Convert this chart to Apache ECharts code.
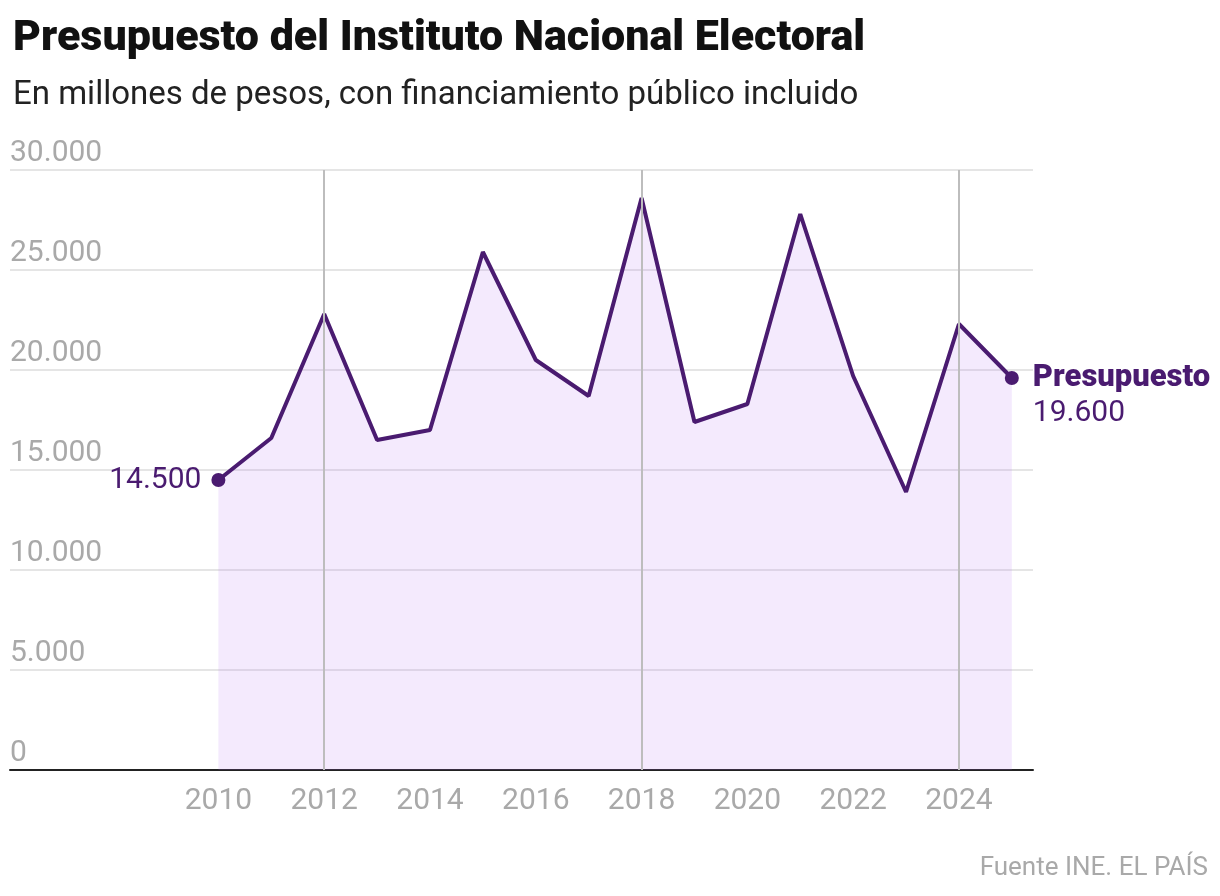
<!DOCTYPE html>
<html style="height: 100%">
<head>
<meta charset="utf-8">
<script src="https://cdn.jsdelivr.net/npm/echarts@6/dist/echarts.min.js"></script>
</head>
<body style="height: 100%; margin: 0; background: #fff">
<div id="container" style="width: 1220px; height: 896px"></div>
<script type="text/javascript">
// datos
var years = [2010, 2011, 2012, 2013, 2014, 2015, 2016, 2017, 2018, 2019, 2020, 2021, 2022, 2023, 2024, 2025];
var presupuesto = [14500, 16600, 22800, 16500, 17000, 25900, 20500, 18700, 28600, 17400, 18300, 27800, 19700, 13900, 22300, 19600];
var xTicks = [2010, 2012, 2014, 2016, 2018, 2020, 2022, 2024];
var yTicks = [0, 5000, 10000, 15000, 20000, 25000, 30000];
var vLines = [2012, 2018, 2024];

var purple = '#4a1b70';
var gray = '#a9a9a9';
var font = 'Roboto, "Noto Sans", sans-serif';

function fmt(v) {
    return String(v).replace(/\B(?=(\d{3})+(?!\d))/g, '.');
}

var seriesData = years.map(function (y, i) {
    var item = { value: [y, presupuesto[i]] };
    if (i === 0) {
        item.symbolSize = 14;
        item.label = {
            show: true, position: 'left', distance: 10,
            color: purple, fontSize: 30, fontFamily: font,
            formatter: fmt(presupuesto[i])
        };
    } else if (i === years.length - 1) {
        item.symbolSize = 14;
        item.label = {
            show: true, position: 'right', distance: 14, offset: [0, 18],
            formatter: '{b|Presupuesto}\n{v|' + fmt(presupuesto[i]) + '}',
            rich: {
                b: { color: purple, fontSize: 31, fontWeight: 900, fontFamily: font, lineHeight: 35 },
                v: { color: purple, fontSize: 30, fontFamily: font, lineHeight: 35 }
            }
        };
    } else {
        item.symbolSize = 0;
    }
    return item;
});

var myChart = echarts.init(document.getElementById('container'));

var option = {
    animation: false,
    title: [
        {
            text: 'Presupuesto del Instituto Nacional Electoral',
            left: 8, top: 13,
            textStyle: { fontSize: 43, fontWeight: 900, color: '#111', fontFamily: font }
        },
        {
            text: 'En millones de pesos, con financiamiento público incluido',
            left: 8, top: 74,
            textStyle: { fontSize: 33, fontWeight: 'normal', color: '#222', fontFamily: font }
        },
        {
            text: 'Fuente INE. EL PAÍS',
            right: 7, top: 850,
            textStyle: { fontSize: 26, fontWeight: 'normal', color: gray, fontFamily: font }
        }
    ],
    grid: { left: 10, right: 187, top: 170, bottom: 126, containLabel: false },
    xAxis: {
        type: 'value',
        min: 2006.06,
        max: 2025.4,
        axisLine: { show: true, onZero: false, lineStyle: { color: '#222', width: 2 } },
        axisTick: { show: false },
        splitLine: { show: false },
        axisLabel: {
            customValues: xTicks,
            color: gray, fontSize: 30, fontFamily: font, margin: 16,
            formatter: function (v) { return String(v); }
        }
    },
    yAxis: {
        type: 'value',
        min: 0,
        max: 30000,
        interval: 5000,
        axisLine: { show: false },
        axisTick: { show: false },
        splitLine: { lineStyle: { color: '#e5e5e5', width: 2 } },
        axisLabel: {
            inside: true, margin: 0,
            verticalAlign: 'bottom', padding: [0, 0, 2, 0],
            color: gray, fontSize: 30, fontFamily: font,
            formatter: function (v) { return yTicks.indexOf(v) >= 0 ? fmt(v) : ''; }
        }
    },
    series: [
        {
            type: 'line',
            data: seriesData,
            symbol: 'circle',
            showAllSymbol: true,
            itemStyle: { color: purple },
            lineStyle: { color: purple, width: 4 },
            areaStyle: { color: 'rgba(185,115,240,0.22)', origin: 'start' },
            markLine: {
                silent: true,
                symbol: 'none',
                label: { show: false },
                lineStyle: { color: '#bdbdbd', width: 2, type: 'solid' },
                data: vLines.map(function (x) { return { xAxis: x }; })
            },
            z: 3
        }
    ]
};

myChart.setOption(option);
</script>
</body>
</html>
